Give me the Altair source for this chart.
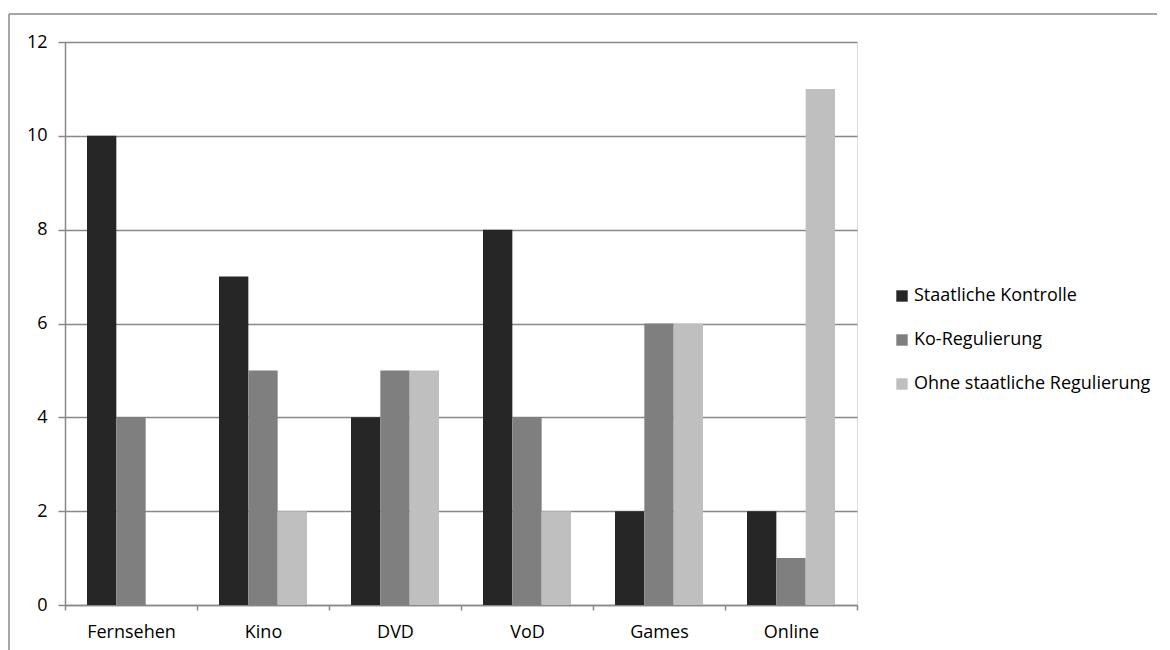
import altair as alt
import pandas as pd

categories = ["Fernsehen", "Kino", "DVD", "VoD", "Games", "Online"]
series = ["Staatliche Kontrolle", "Ko-Regulierung", "Ohne staatliche Regulierung"]
staatlich = [10, 7, 4, 8, 2, 2]
ko = [4, 5, 5, 4, 6, 1]
ohne = [0, 2, 5, 2, 6, 11]
colors = ["#262626", "#7f7f7f", "#bfbfbf"]
y_ticks = [0, 2, 4, 6, 8, 10, 12]

rows = []
for i, c in enumerate(categories):
    for s, vals in zip(series, [staatlich, ko, ohne]):
        rows.append({"Kategorie": c, "Serie": s, "Wert": vals[i]})
df = pd.DataFrame(rows)

FONT = "Open Sans"
FS = 18
GRID = "#888888"

bars = alt.Chart(df).mark_bar().encode(
    x=alt.X("Kategorie:N", sort=categories, title=None,
            scale=alt.Scale(paddingInner=0, paddingOuter=0),
            axis=alt.Axis(labelAngle=0, tickBand="extent", tickSize=5,
                          labelPadding=13, labelFontSize=FS, labelFont=FONT,
                          labelColor="#000000", domainColor=GRID, tickColor=GRID,
                          domainWidth=1.5, tickWidth=1.5, grid=False)),
    xOffset=alt.XOffset("Serie:N", sort=series,
                        scale=alt.Scale(paddingInner=0, paddingOuter=0.75)),
    y=alt.Y("Wert:Q", title=None,
            scale=alt.Scale(domain=[0, 12], nice=False),
            axis=alt.Axis(values=y_ticks, tickSize=7, labelPadding=11,
                          labelFontSize=FS, labelFont=FONT, labelColor="#000000",
                          domainColor=GRID, tickColor=GRID, domainWidth=1.5,
                          tickWidth=1.5, grid=True, gridColor=GRID, gridWidth=1.5,
                          gridOpacity=1)),
    color=alt.Color("Serie:N", sort=series, title=None,
                    scale=alt.Scale(domain=series, range=colors),
                    legend=alt.Legend(orient="none", legendX=828, legendY=245,
                                      symbolType="square", symbolSize=130,
                                      symbolStrokeWidth=0, labelFontSize=FS,
                                      labelFont=FONT, labelColor="#000000",
                                      rowPadding=26, symbolOffset=0,
                                      labelOffset=3, labelLimit=400)),
)

one = pd.DataFrame({"k": [0]})
border_left = alt.Chart(one).mark_rule(color=GRID, strokeWidth=1.5).encode(
    x=alt.value(-56), y=alt.value(-28), y2=alt.value(620))
border_top = alt.Chart(one).mark_rule(color=GRID, strokeWidth=1.5).encode(
    x=alt.value(-56), x2=alt.value(1110), y=alt.value(-28))

chart = alt.layer(border_left, border_top, bars).properties(
    width=792, height=563,
    padding={"left": 57, "top": 34, "right": 300, "bottom": 55},
    autosize=alt.AutoSizeParams(type="none"),
).configure_view(stroke=None).configure(background="white")

chart.save("out.html", embed_options={"renderer": "svg", "actions": False})
